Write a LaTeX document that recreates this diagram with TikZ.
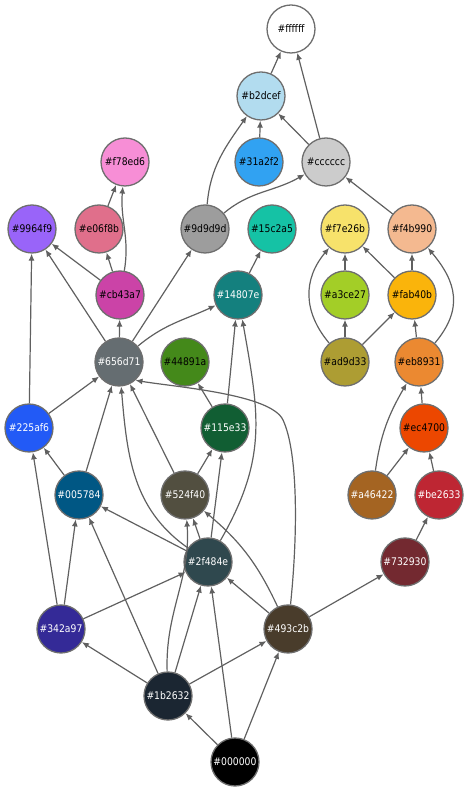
\documentclass[tikz,border=0pt]{standalone}
\usepackage{fontspec}
\newfontfamily\lblfam[FakeStretch=0.88]{DejaVu Sans}
\usetikzlibrary{arrows.meta}
\definecolor{bord}{HTML}{6E6E6E}
\definecolor{edgec}{HTML}{606060}
\definecolor{cffffff}{HTML}{FFFFFF}
\definecolor{cb2dcef}{HTML}{B2DCEF}
\definecolor{c31a2f2}{HTML}{31A2F2}
\definecolor{ccccccc}{HTML}{CCCCCC}
\definecolor{cf78ed6}{HTML}{F78ED6}
\definecolor{c9964f9}{HTML}{9964F9}
\definecolor{ce06f8b}{HTML}{E06F8B}
\definecolor{c9d9d9d}{HTML}{9D9D9D}
\definecolor{c15c2a5}{HTML}{15C2A5}
\definecolor{cf7e26b}{HTML}{F7E26B}
\definecolor{cf4b990}{HTML}{F4B990}
\definecolor{ccb43a7}{HTML}{CB43A7}
\definecolor{c14807e}{HTML}{14807E}
\definecolor{ca3ce27}{HTML}{A3CE27}
\definecolor{cfab40b}{HTML}{FAB40B}
\definecolor{c656d71}{HTML}{656D71}
\definecolor{c44891a}{HTML}{44891A}
\definecolor{cad9d33}{HTML}{AD9D33}
\definecolor{ceb8931}{HTML}{EB8931}
\definecolor{c225af6}{HTML}{225AF6}
\definecolor{c115e33}{HTML}{115E33}
\definecolor{cec4700}{HTML}{EC4700}
\definecolor{c005784}{HTML}{005784}
\definecolor{c524f40}{HTML}{524F40}
\definecolor{ca46422}{HTML}{A46422}
\definecolor{cbe2633}{HTML}{BE2633}
\definecolor{c2f484e}{HTML}{2F484E}
\definecolor{c732930}{HTML}{732930}
\definecolor{c342a97}{HTML}{342A97}
\definecolor{c493c2b}{HTML}{493C2B}
\definecolor{c1b2632}{HTML}{1B2632}
\definecolor{c000000}{HTML}{000000}
\tikzset{
  cnode/.style={circle, minimum size=48pt, inner sep=0pt, draw=bord, line width=1.3pt,
    font=\lblfam\fontsize{10.5}{12}\selectfont},
  wt/.style={text=white},
  edge/.style={draw=edgec, line width=1.2pt, -{Latex[length=7pt,width=6pt]}}
}
\begin{document}
\begin{tikzpicture}[x=1pt,y=1pt]
\useasboundingbox (0,0) rectangle (468,792);
% nodes
\node[cnode,fill=cffffff] (nffffff) at (291,763) {\#ffffff};
\node[cnode,fill=cb2dcef] (nb2dcef) at (261,696) {\#b2dcef};
\node[cnode,fill=c31a2f2] (n31a2f2) at (259,630) {\#31a2f2};
\node[cnode,fill=ccccccc] (ncccccc) at (326,630) {\#cccccc};
\node[cnode,fill=cf78ed6] (nf78ed6) at (125,630) {\#f78ed6};
\node[cnode,fill=c9964f9] (n9964f9) at (32,563) {\#9964f9};
\node[cnode,fill=ce06f8b] (ne06f8b) at (99,563) {\#e06f8b};
\node[cnode,fill=c9d9d9d] (n9d9d9d) at (205,563) {\#9d9d9d};
\node[cnode,fill=c15c2a5] (n15c2a5) at (272,563) {\#15c2a5};
\node[cnode,fill=cf7e26b] (nf7e26b) at (345,563) {\#f7e26b};
\node[cnode,fill=cf4b990] (nf4b990) at (412,563) {\#f4b990};
\node[cnode,fill=ccb43a7] (ncb43a7) at (120,497) {\#cb43a7};
\node[cnode,fill=c14807e,wt] (n14807e) at (238,497) {\#14807e};
\node[cnode,fill=ca3ce27] (na3ce27) at (345,497) {\#a3ce27};
\node[cnode,fill=cfab40b] (nfab40b) at (412,497) {\#fab40b};
\node[cnode,fill=c656d71,wt] (n656d71) at (119,430) {\#656d71};
\node[cnode,fill=c44891a] (n44891a) at (185,430) {\#44891a};
\node[cnode,fill=cad9d33] (nad9d33) at (345,430) {\#ad9d33};
\node[cnode,fill=ceb8931] (neb8931) at (419,430) {\#eb8931};
\node[cnode,fill=c225af6,wt] (n225af6) at (29,364) {\#225af6};
\node[cnode,fill=c115e33,wt] (n115e33) at (225,364) {\#115e33};
\node[cnode,fill=cec4700] (nec4700) at (424,364) {\#ec4700};
\node[cnode,fill=c005784,wt] (n005784) at (79,297) {\#005784};
\node[cnode,fill=c524f40,wt] (n524f40) at (185,297) {\#524f40};
\node[cnode,fill=ca46422,wt] (na46422) at (372,297) {\#a46422};
\node[cnode,fill=cbe2633,wt] (nbe2633) at (439,297) {\#be2633};
\node[cnode,fill=c2f484e,wt] (n2f484e) at (208,230) {\#2f484e};
\node[cnode,fill=c732930,wt] (n732930) at (405,230) {\#732930};
\node[cnode,fill=c342a97,wt] (n342a97) at (61,163) {\#342a97};
\node[cnode,fill=c493c2b,wt] (n493c2b) at (288,163) {\#493c2b};
\node[cnode,fill=c1b2632,wt] (n1b2632) at (168,96) {\#1b2632};
\node[cnode,fill=c000000,wt] (n000000) at (235,30) {\#000000};
% edges
\draw[edge] (nb2dcef) -- (nffffff);
\draw[edge] (ncccccc) -- (nffffff);
\draw[edge] (n31a2f2) -- (nb2dcef);
\draw[edge] (ncccccc) -- (nb2dcef);
\draw[edge] (n9d9d9d) to[out=85,in=-125] (nb2dcef);
\draw[edge] (n9d9d9d) to[out=40,in=-150] (ncccccc);
\draw[edge] (nf4b990) -- (ncccccc);
\draw[edge] (ne06f8b) -- (nf78ed6);
\draw[edge] (ncb43a7) to[out=80,in=-95] (nf78ed6);
\draw[edge] (ncb43a7) -- (n9964f9);
\draw[edge] (ncb43a7) -- (ne06f8b);
\draw[edge] (n656d71) -- (n9964f9);
\draw[edge] (n656d71) -- (ncb43a7);
\draw[edge] (n656d71) -- (n9d9d9d);
\draw[edge] (n656d71) to[out=40,in=-155] (n14807e);
\draw[edge] (n14807e) -- (n15c2a5);
\draw[edge] (na3ce27) -- (nf7e26b);
\draw[edge] (nfab40b) -- (nf7e26b);
\draw[edge] (nad9d33) to[out=130,in=-130,looseness=1.1] (nf7e26b);
\draw[edge] (nad9d33) -- (na3ce27);
\draw[edge] (nad9d33) -- (nfab40b);
\draw[edge] (nfab40b) -- (nf4b990);
\draw[edge] (neb8931) -- (nfab40b);
\draw[edge] (neb8931) to[out=50,in=-50,looseness=1.2] (nf4b990);
\draw[edge] (n225af6) -- (n9964f9);
\draw[edge] (n225af6) -- (n656d71);
\draw[edge] (n115e33) -- (n44891a);
\draw[edge] (n115e33) -- (n14807e);
\draw[edge] (nec4700) -- (neb8931);
\draw[edge] (na46422) to[out=82,in=-120] (neb8931);
\draw[edge] (na46422) -- (nec4700);
\draw[edge] (nbe2633) -- (nec4700);
\draw[edge] (n005784) -- (n225af6);
\draw[edge] (n005784) -- (n656d71);
\draw[edge] (n524f40) -- (n656d71);
\draw[edge] (n524f40) -- (n115e33);
\draw[edge] (n2f484e) to[out=145,in=-85] (n656d71);
\draw[edge] (n2f484e) -- (n005784);
\draw[edge] (n2f484e) -- (n524f40);
\draw[edge] (n2f484e) -- (n115e33);
\draw[edge] (n2f484e) to[out=60,in=-80,looseness=1.1] (n14807e);
\draw[edge] (n493c2b) .. controls (298,260) and (298,340) .. (283,372)
  .. controls (271,398) and (175,405) .. (n656d71.-48);
\draw[edge] (n493c2b) to[out=115,in=-40] (n524f40);
\draw[edge] (n493c2b) -- (n2f484e);
\draw[edge] (n493c2b) -- (n732930);
\draw[edge] (n732930) -- (nbe2633);
\draw[edge] (n342a97) -- (n225af6);
\draw[edge] (n342a97) -- (n005784);
\draw[edge] (n342a97) -- (n2f484e);
\draw[edge] (n1b2632) -- (n342a97);
\draw[edge] (n1b2632) -- (n005784);
\draw[edge] (n1b2632) to[out=92,in=-86] (n524f40);
\draw[edge] (n1b2632) -- (n2f484e);
\draw[edge] (n1b2632) -- (n493c2b);
\draw[edge] (n000000) -- (n1b2632);
\draw[edge] (n000000) -- (n2f484e);
\draw[edge] (n000000) -- (n493c2b);
\end{tikzpicture}
\end{document}
